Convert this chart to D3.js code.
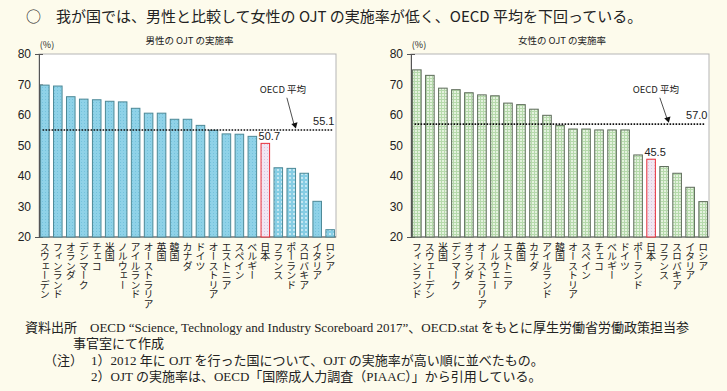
<!DOCTYPE html>
<html lang="ja">
<head>
<meta charset="UTF-8">
<title>OJT実施率</title>
<script src="https://d3js.org/d3.v7.min.js"></script>
<style>
    html, body {
        margin: 0;
        padding: 0;
        background-color: #fdfbec;
    }
    svg text {
        font-family: 'Noto Sans CJK JP', sans-serif;
        fill: #222;
    }
    .tick-label {
        font-family: 'Liberation Sans', 'Noto Sans CJK JP', sans-serif;
        font-size: 12px;
    }
    svg text.note {
        font-family: 'Liberation Serif', 'Noto Sans CJK JP', serif;
        font-size: 13px;
        white-space: pre;
    }
</style>
</head>
<body>
<svg id="chart" width="727" height="391"></svg>
<script>
    // DATA
    const menCountries = ["スウェーデン", "フィンランド", "オランダ", "デンマーク", "チェコ", "米国", "ノルウェー", "アイルランド", "オーストラリア", "英国", "韓国", "カナダ", "ドイツ", "オーストリア", "エストニア", "スペイン", "ベルギー", "日本", "フランス", "ポーランド", "スロバキア", "イタリア", "ロシア"];
    const menValues = [69.8, 69.5, 66.0, 65.2, 65.0, 64.5, 64.3, 62.2, 60.6, 60.6, 58.6, 58.6, 56.6, 55.0, 53.8, 53.7, 53.0, 50.7, 42.7, 42.5, 40.9, 31.7, 22.4];
    const menTextured = ["フランス", "ポーランド", "スロバキア", "ロシア"];
    const womenCountries = ["フィンランド", "スウェーデン", "米国", "デンマーク", "オランダ", "オーストラリア", "ノルウェー", "エストニア", "英国", "カナダ", "アイルランド", "韓国", "オーストリア", "スペイン", "チェコ", "ベルギー", "ドイツ", "ポーランド", "日本", "フランス", "スロバキア", "イタリア", "ロシア"];
    const womenValues = [74.8, 73.0, 68.8, 68.3, 67.3, 66.6, 66.3, 63.9, 63.4, 61.9, 59.9, 56.6, 55.4, 55.4, 55.1, 55.1, 55.1, 46.9, 45.5, 43.1, 40.9, 36.3, 31.6];
    const oecdMen = 55.1;
    const oecdWomen = 57.0;
    const yTicks = [20, 30, 40, 50, 60, 70, 80];
    const japan = "日本";

    const svg = d3.select("#chart");

    // PATTERNS
    const defs = svg.append("defs");
    const blue = defs.append("pattern").attr("id", "blueFill")
        .attr("width", 3).attr("height", 3).attr("patternUnits", "userSpaceOnUse");
    blue.append("rect").attr("width", 3).attr("height", 3).attr("fill", "#8fd2e8");
    blue.append("rect").attr("width", 1).attr("height", 1).attr("fill", "#74c2dc");

    const blueDots = defs.append("pattern").attr("id", "blueDots")
        .attr("width", 4).attr("height", 4).attr("patternUnits", "userSpaceOnUse");
    blueDots.append("rect").attr("width", 4).attr("height", 4).attr("fill", "#86cde4");
    blueDots.append("circle").attr("cx", 2).attr("cy", 2).attr("r", 0.9).attr("fill", "#e4f5fa");

    const green = defs.append("pattern").attr("id", "greenFill")
        .attr("width", 3).attr("height", 3).attr("patternUnits", "userSpaceOnUse");
    green.append("rect").attr("width", 3).attr("height", 3).attr("fill", "#e4f2de");
    green.append("path").attr("d", "M0,0.5H3M0.5,0V3").attr("stroke", "#b5d9ab").attr("stroke-width", 1);

    const pink = defs.append("pattern").attr("id", "pinkFill")
        .attr("width", 3).attr("height", 3).attr("patternUnits", "userSpaceOnUse");
    pink.append("rect").attr("width", 3).attr("height", 3).attr("fill", "#f1e6f2");
    pink.append("rect").attr("width", 1).attr("height", 1).attr("fill", "#d9c5e0");

    // MAIN TITLE
    svg.append("text")
        .attr("x", 26).attr("y", 22)
        .style("font-size", "15px")
        .text("○　我が国では、男性と比較して女性の OJT の実施率が低く、OECD 平均を下回っている。");

    // DRAW ONE PANEL
    function drawPanel(opt) {
        const g = svg.append("g");
        const y = d3.scaleLinear().domain([20, 80]).range([237, 54]);
        const x = d3.scaleBand()
            .domain(opt.countries)
            .range([opt.left, opt.right])
            .paddingInner(0.34)
            .paddingOuter(0.12);

        // plot box
        g.append("rect")
            .attr("x", opt.left).attr("y", y(80))
            .attr("width", opt.right - opt.left).attr("height", y(20) - y(80))
            .attr("fill", "#ffffff")
            .attr("stroke", "#b5b5b5").attr("stroke-width", 1);

        // y axis
        const yAxis = d3.axisLeft(y).tickValues(yTicks).tickSize(4).tickPadding(4);
        const ya = g.append("g")
            .attr("transform", `translate(${opt.left},0)`)
            .call(yAxis);
        ya.select(".domain").attr("stroke", "#555");
        ya.selectAll(".tick line").attr("stroke", "#555").attr("x2", 4);
        ya.selectAll(".tick text").attr("class", "tick-label").attr("fill", "#222");

        // bottom axis line
        g.append("line")
            .attr("x1", opt.left).attr("x2", opt.right)
            .attr("y1", y(20)).attr("y2", y(20))
            .attr("stroke", "#555");

        // bars
        g.selectAll(".bar")
            .data(opt.countries.map((c, i) => ({ c: c, v: opt.values[i] })))
            .enter()
            .append("rect")
            .attr("class", "bar")
            .attr("x", d => x(d.c))
            .attr("y", d => y(d.v))
            .attr("width", x.bandwidth())
            .attr("height", d => y(20) - y(d.v))
            .attr("fill", d => d.c === japan ? "url(#pinkFill)" : (opt.textured.includes(d.c) ? "url(#blueDots)" : opt.fill))
            .attr("stroke", d => d.c === japan ? "#e8303a" : opt.stroke)
            .attr("stroke-width", 1);

        // Japan value label
        const jv = opt.values[opt.countries.indexOf(japan)];
        g.append("text")
            .attr("x", x(japan) + x.bandwidth() / 2 + 4)
            .attr("y", y(jv) - 3)
            .attr("text-anchor", "middle")
            .style("font-size", "11px")
            .style("font-family", "'Liberation Sans', sans-serif")
            .text(jv.toFixed(1));

        // OECD line
        const first = opt.countries[0];
        const last = opt.countries[opt.countries.length - 1];
        g.append("line")
            .attr("x1", x(first) + 2).attr("x2", x(last) + x.bandwidth() - 2)
            .attr("y1", y(opt.oecd)).attr("y2", y(opt.oecd))
            .attr("stroke", "#111").attr("stroke-width", 1.6)
            .attr("stroke-dasharray", "1.6,1.4");
        g.append("text")
            .attr("x", x(last) + x.bandwidth())
            .attr("y", y(opt.oecd) - 5)
            .attr("text-anchor", "end")
            .style("font-size", "11px")
            .style("font-family", "'Liberation Sans', sans-serif")
            .text(opt.oecd.toFixed(1));

        // OECD label + arrow
        const ax = x(last) - 40;
        g.append("text")
            .attr("x", ax - 3).attr("y", y(oecdLabelValue))
            .attr("text-anchor", "middle")
            .style("font-size", "9.5px")
            .text("OECD 平均");
        g.append("line")
            .attr("x1", ax + 1).attr("y1", y(oecdLabelValue) + 5)
            .attr("x2", ax + 8).attr("y2", y(opt.oecd) - 6)
            .attr("stroke", "#222").attr("stroke-width", 0.8);
        g.append("path")
            .attr("d", d3.symbol(d3.symbolTriangle, 18)())
            .attr("transform", `translate(${ax + 9},${y(opt.oecd) - 5}) rotate(165)`)
            .attr("fill", "#111");

        // panel title and unit
        g.append("text")
            .attr("x", (opt.left + opt.right) / 2 + 2).attr("y", 44)
            .attr("text-anchor", "middle")
            .style("font-size", "9.5px")
            .text(opt.title);
        g.append("text")
            .attr("x", opt.left + 8).attr("y", 48)
            .attr("text-anchor", "middle")
            .style("font-size", "9px")
            .text("(%)");

        // category labels (vertical)
        g.selectAll(".cat")
            .data(opt.countries)
            .enter()
            .append("text")
            .attr("class", "cat")
            .attr("x", d => x(d) + x.bandwidth() / 2)
            .attr("y", 242)
            .style("writing-mode", "vertical-rl")
            .style("text-orientation", "upright")
            .style("font-size", "10px")
            .style("letter-spacing", "-0.5px")
            .text(d => d);
    }

    const oecdLabelValue = 67.3;

    drawPanel({
        countries: menCountries, values: menValues, textured: menTextured,
        oecd: oecdMen, left: 39, right: 336,
        fill: "url(#blueFill)", stroke: "#4c8896",
        title: "男性の OJT の実施率"
    });
    drawPanel({
        countries: womenCountries, values: womenValues, textured: [],
        oecd: oecdWomen, left: 411, right: 709,
        fill: "url(#greenFill)", stroke: "#5d6b5a",
        title: "女性の OJT の実施率"
    });

    // NOTES
    const notes = [
        { x: 25, y: 332, t: "資料出所　OECD “Science, Technology and Industry Scoreboard 2017”、OECD.stat をもとに厚生労働省労働政策担当参" },
        { x: 73, y: 348, t: "事官室にて作成" },
        { x: 44, y: 365, t: "（注）" },
        { x: 91, y: 365, t: "1）2012 年に OJT を行った国について、OJT の実施率が高い順に並べたもの。" },
        { x: 91, y: 381, t: "2）OJT の実施率は、OECD「国際成人力調査（PIAAC）」から引用している。" }
    ];
    svg.selectAll(".note")
        .data(notes)
        .enter()
        .append("text")
        .attr("class", "note")
        .attr("x", d => d.x)
        .attr("y", d => d.y)
        .text(d => d.t);
</script>
</body>
</html>
